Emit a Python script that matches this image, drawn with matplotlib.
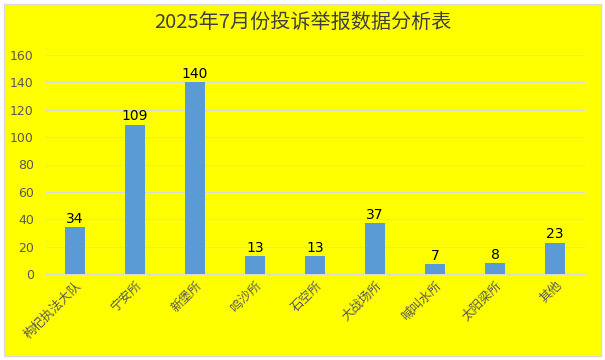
import matplotlib.pyplot as plt
from matplotlib.patches import Rectangle

plt.rcParams['font.family'] = ['Noto Sans CJK SC', 'DejaVu Sans']

categories = ['枸杞执法大队', '宁安所', '新堡所', '鸣沙所', '石空所',
              '大战场所', '喊叫水所', '太阳梁所', '其他']
counts = [34, 109, 140, 13, 13, 37, 7, 8, 23]
yticks = [0, 20, 40, 60, 80, 100, 120, 140, 160]

fig = plt.figure(figsize=(6.05, 3.6), dpi=100, facecolor='white')
bg = Rectangle((4 / 605, 4 / 360), 1 - 8 / 605, 1 - 8 / 360,
               transform=fig.transFigure, facecolor='#FFFF00',
               edgecolor='#D9D9D9', linewidth=1, zorder=-10)
fig.add_artist(bg)

ax = fig.add_axes([45 / 605, 1 - 274 / 360, 540 / 605, 219 / 360])
ax.set_facecolor('none')

x = range(len(categories))
bars = ax.bar(x, counts, width=0.32, color='#5B9BD5', zorder=3)
for xi, v in zip(x, counts):
    ax.text(xi, v + 1, str(v), ha='center', va='bottom', fontsize=10,
            color='black', zorder=4, family='DejaVu Sans')

ax.set_xlim(-0.5, len(categories) - 0.5)
ax.set_ylim(0, 160)
ax.set_yticks(yticks)
ax.set_yticklabels([str(t) for t in yticks], family='DejaVu Sans')
ax.grid(axis='y', color='#D9D9D9', linewidth=0.8, zorder=0)
for s in ['top', 'right', 'left']:
    ax.spines[s].set_visible(False)
ax.spines['bottom'].set_color('#D9D9D9')
ax.tick_params(axis='both', length=0, colors='#595959', labelsize=9)
ax.tick_params(axis='y', pad=8)
ax.set_xticks(list(x))
ax.set_xticklabels(categories, rotation=45, ha='right', rotation_mode='anchor',
                   fontsize=9, color='#595959')

fig.text(0.5, 1 - 22 / 360, '2025年7月份投诉举报数据分析表', ha='center',
         va='center', fontsize=14.5, color='#404040')

fig.savefig('out.png', dpi=100, facecolor=fig.get_facecolor())
